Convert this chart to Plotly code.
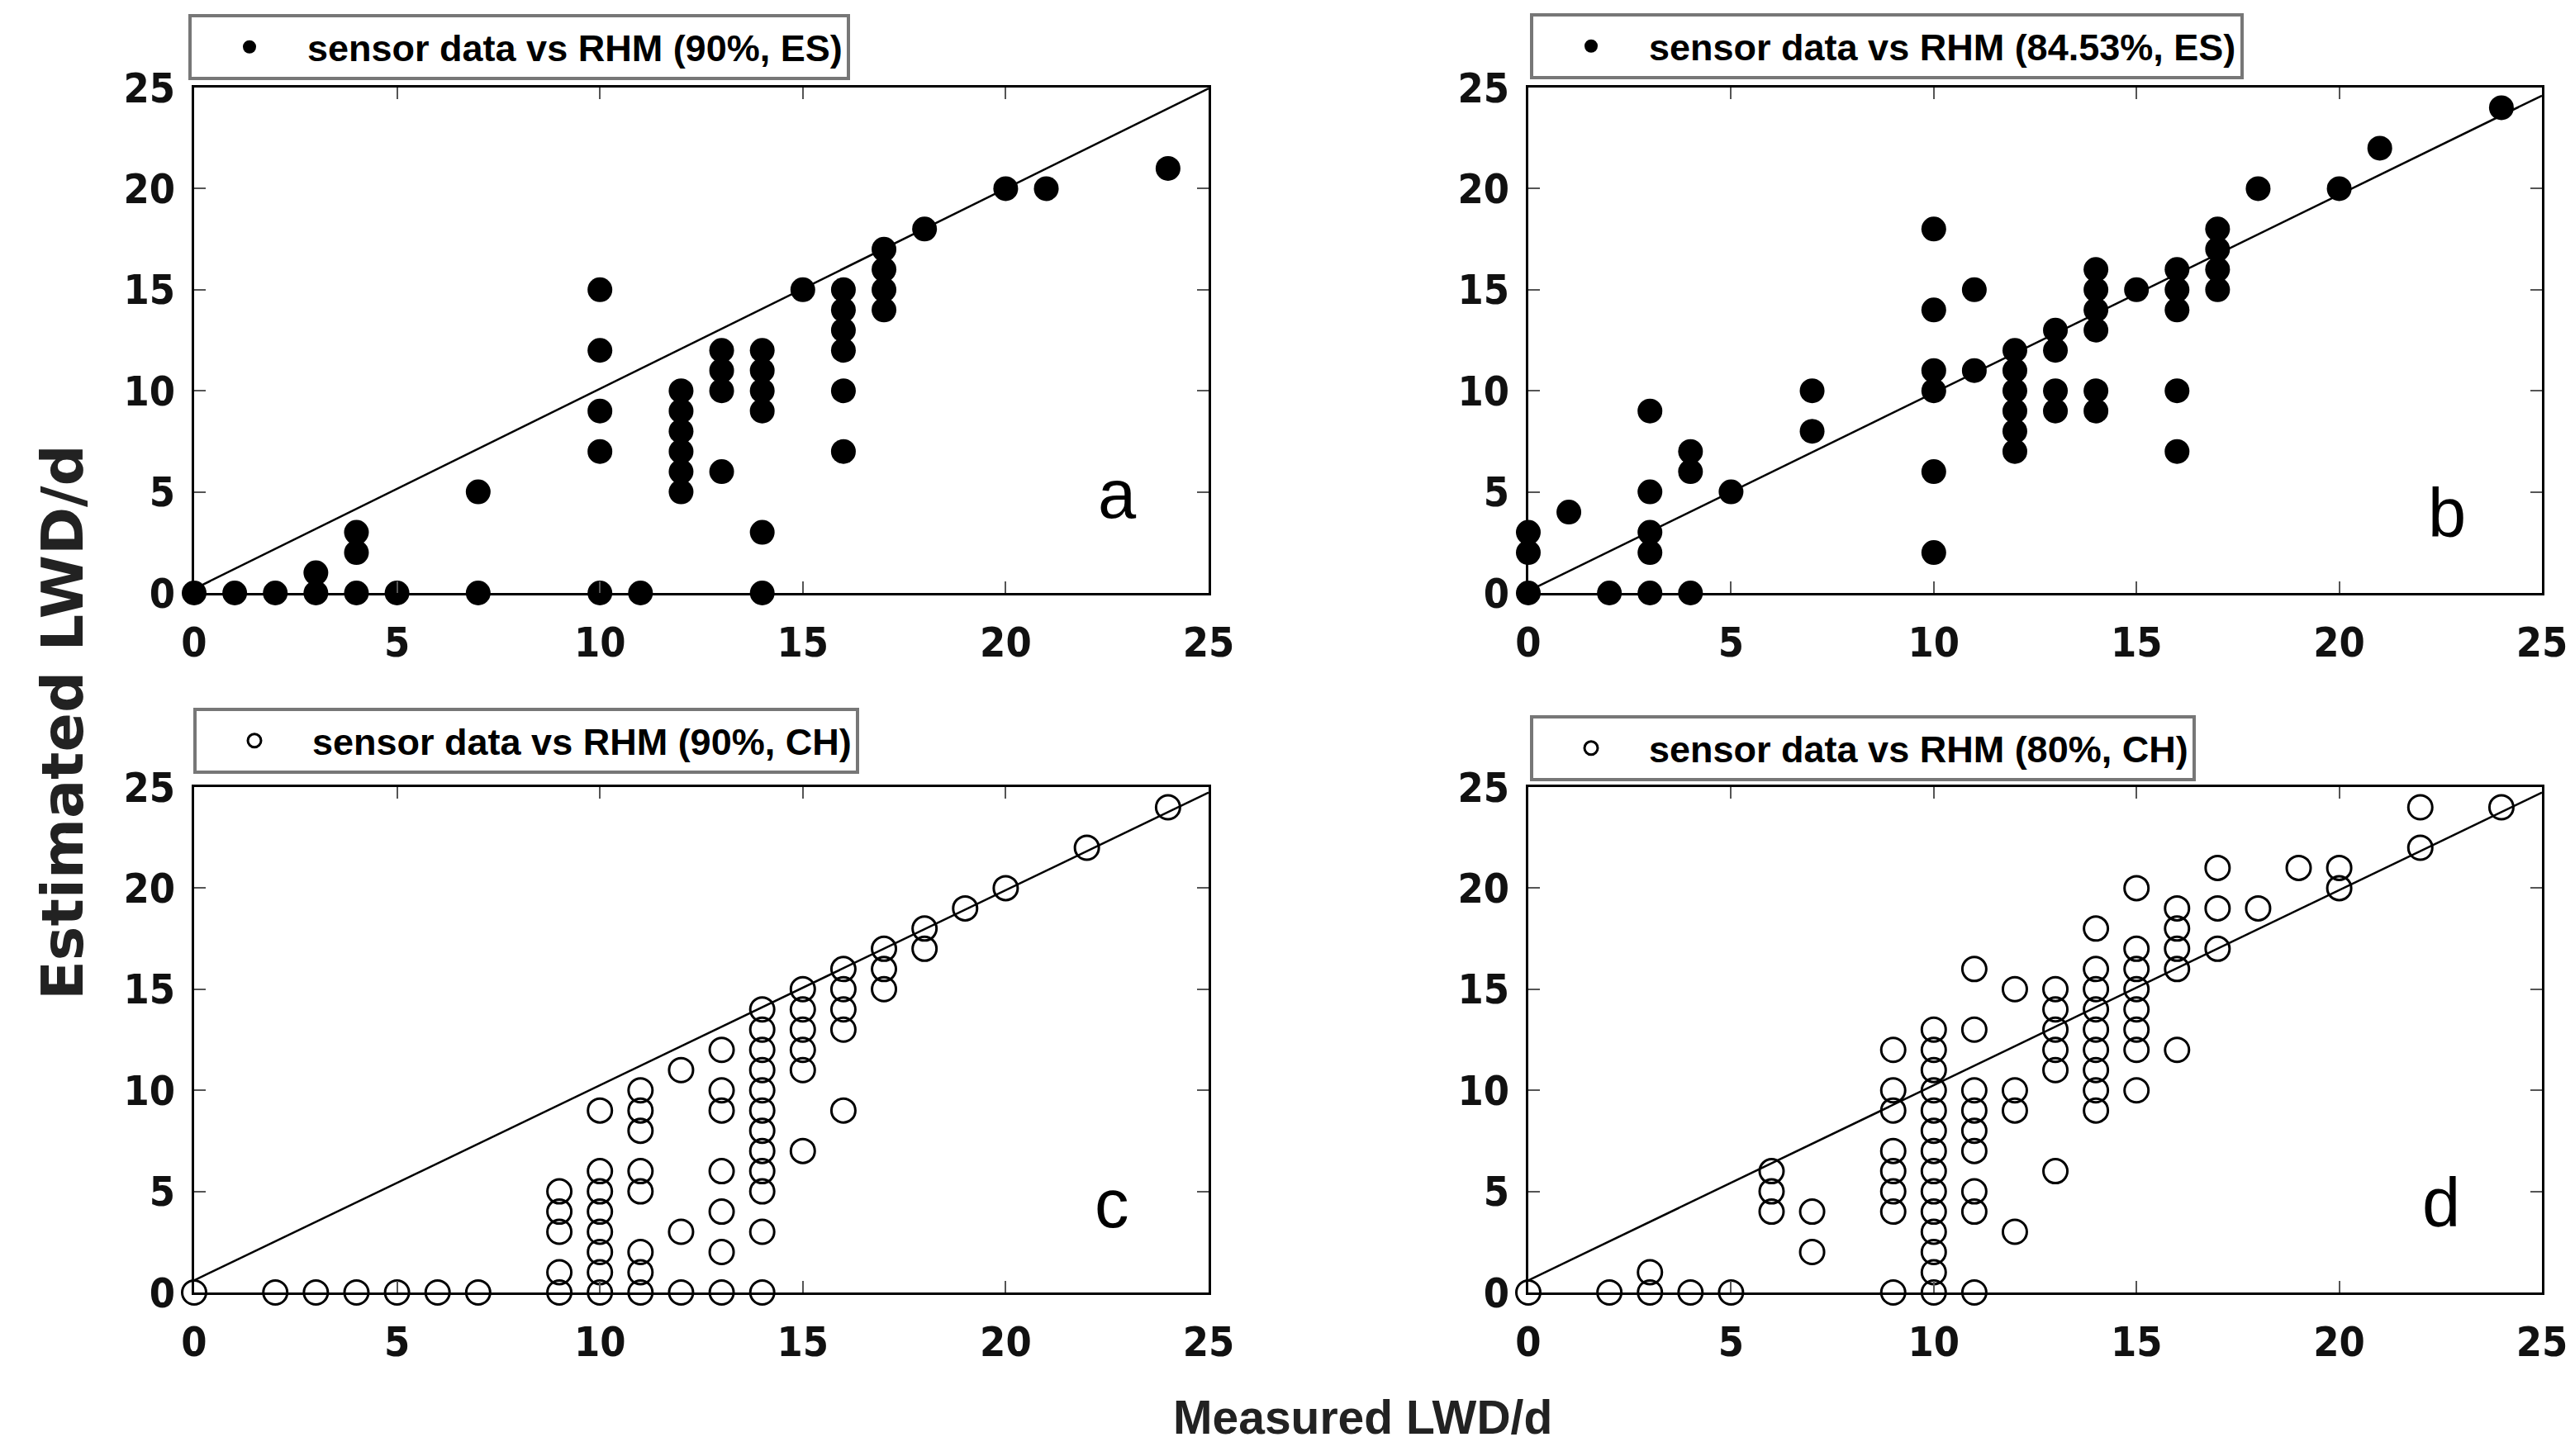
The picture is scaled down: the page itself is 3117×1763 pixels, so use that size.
import plotly.graph_objects as go

# panel a: sensor data vs RHM (90%, ES)
a_measured = [0, 1, 2, 3, 3, 4, 4, 4, 5, 7, 7,
              10, 10, 10, 10, 10, 11,
              12, 12, 12, 12, 12, 12,
              13, 13, 13, 13,
              14, 14, 14, 14, 14, 14,
              15, 16, 16, 16, 16, 16, 16,
              17, 17, 17, 17, 18, 20, 21, 24]
a_estimated = [0, 0, 0, 0, 1, 0, 2, 3, 0, 0, 5,
               0, 7, 9, 12, 15, 0,
               5, 6, 7, 8, 9, 10,
               6, 10, 11, 12,
               0, 3, 9, 10, 11, 12,
               15, 7, 10, 12, 13, 14, 15,
               14, 15, 16, 17, 18, 20, 20, 21]

# panel b: sensor data vs RHM (84.53%, ES)
b_measured = [0, 0, 0, 1, 2, 3, 3, 3, 3, 3, 4, 4, 4, 5, 7, 7,
              10, 10, 10, 10, 10, 10, 11, 11,
              12, 12, 12, 12, 12, 12,
              13, 13, 13, 13,
              14, 14, 14, 14, 14, 14,
              15, 16, 16, 16, 16, 16,
              17, 17, 17, 17, 18, 20, 21, 24]
b_estimated = [0, 2, 3, 4, 0, 0, 2, 3, 5, 9, 0, 6, 7, 5, 8, 10,
               2, 6, 10, 11, 14, 18, 11, 15,
               7, 8, 9, 10, 11, 12,
               9, 10, 12, 13,
               9, 10, 13, 14, 15, 16,
               15, 7, 10, 14, 15, 16,
               15, 16, 17, 18, 20, 20, 22, 24]

# panel c: sensor data vs RHM (90%, CH)
c_measured = [0, 2, 3, 4, 5, 6, 7,
              9, 9, 9, 9, 9,
              10, 10, 10, 10, 10, 10, 10, 10,
              11, 11, 11, 11, 11, 11, 11, 11,
              12, 12, 12,
              13, 13, 13, 13, 13, 13, 13,
              14, 14, 14, 14, 14, 14, 14, 14, 14, 14, 14, 14,
              15, 15, 15, 15, 15, 15,
              16, 16, 16, 16, 16,
              17, 17, 17, 18, 18, 19, 20, 22, 24]
c_estimated = [0, 0, 0, 0, 0, 0, 0,
               0, 1, 3, 4, 5,
               0, 1, 2, 3, 4, 5, 6, 9,
               0, 1, 2, 5, 6, 8, 9, 10,
               0, 3, 11,
               0, 2, 4, 6, 9, 10, 12,
               0, 3, 5, 6, 7, 8, 9, 10, 11, 12, 13, 14,
               7, 11, 12, 13, 14, 15,
               9, 13, 14, 15, 16,
               15, 16, 17, 17, 18, 19, 20, 22, 24]

# panel d: sensor data vs RHM (80%, CH)
d_measured = [0, 2, 3, 3, 4, 5, 6, 6, 6, 7, 7,
              9, 9, 9, 9, 9, 9, 9, 9,
              10, 10, 10, 10, 10, 10, 10, 10, 10, 10, 10, 10, 10, 10,
              11, 11, 11, 11, 11, 11, 11, 11, 11,
              12, 12, 12, 12,
              13, 13, 13, 13, 13, 13,
              14, 14, 14, 14, 14, 14, 14, 14, 14,
              15, 15, 15, 15, 15, 15, 15, 15,
              16, 16, 16, 16, 16,
              17, 17, 17, 18, 19, 20, 20, 22, 22, 24]
d_estimated = [0, 0, 0, 1, 0, 0, 4, 5, 6, 2, 4,
               0, 4, 5, 6, 7, 9, 10, 12,
               0, 1, 2, 3, 4, 5, 6, 7, 8, 9, 10, 11, 12, 13,
               0, 4, 5, 7, 8, 9, 10, 13, 16,
               3, 9, 10, 15,
               6, 11, 12, 13, 14, 15,
               9, 10, 11, 12, 13, 14, 15, 16, 18,
               10, 12, 13, 14, 15, 16, 17, 20,
               12, 16, 17, 18, 19,
               17, 19, 21, 19, 21, 20, 21, 22, 24, 24]

series_names = ["sensor data vs RHM (90%, ES)", "sensor data vs RHM (84.53%, ES)",
                "sensor data vs RHM (90%, CH)", "sensor data vs RHM (80%, CH)"]
panel_letters = ["a", "b", "c", "d"]
letter_x = [22.76, 22.66, 22.62, 22.52]
letter_y = [4.9, 3.94, 4.39, 4.42]
# fitted reference lines (intercept, slope)
fit_intercept = [0.2, 0.1, 0.6, 0.6]
fit_slope = [0.99, 0.98, 0.965, 0.965]

measured = [a_measured, b_measured, c_measured, d_measured]
estimated = [a_estimated, b_estimated, c_estimated, d_estimated]
filled = [True, True, False, False]

narrow = "DejaVu Sans Condensed, Liberation Sans Narrow, Arial Narrow, sans-serif"
sans = "Liberation Sans, Arial, sans-serif"

# page has an 8px body margin, so size the figure to fit the window
PAD = 8
W, H = 3117 - 2 * PAD, 1763 - 2 * PAD


def fx(px):
    return (px - PAD) / W


def fy(py):
    return 1 - (py - PAD) / H


# plot boxes in page pixels: left, right, top, bottom
boxes = [(235, 1463, 106, 718), (1850, 3077, 106, 718),
         (235, 1463, 953, 1565), (1850, 3077, 953, 1565)]
# legend boxes in page pixels: left, bottom
legend_px = [(228, 97), (1852, 96), (234, 937), (1852, 946)]

fig = go.Figure()
layout = {}

for i in range(4):
    sfx = "" if i == 0 else str(i + 1)
    lg = "legend" + sfx
    if filled[i]:
        marker = dict(symbol="circle", size=30, color="black", line=dict(width=0))
    else:
        marker = dict(symbol="circle-open", size=29, color="black", line=dict(width=3))
    fig.add_trace(go.Scatter(
        x=measured[i], y=estimated[i], mode="markers", name=series_names[i],
        marker=marker, cliponaxis=False, legend=lg,
        xaxis="x" + sfx, yaxis="y" + sfx))
    fig.add_trace(go.Scatter(
        x=[0, 25], y=[fit_intercept[i], fit_intercept[i] + 25 * fit_slope[i]],
        mode="lines", line=dict(color="black", width=2.5), showlegend=False,
        xaxis="x" + sfx, yaxis="y" + sfx))

    left, right, top, bottom = boxes[i]
    axis_common = dict(range=[0, 25], tickvals=[0, 5, 10, 15, 20, 25],
                       ticks="inside", ticklen=14, tickwidth=2, tickcolor="#555",
                       showline=True, linecolor="black", linewidth=3, mirror="ticks",
                       showgrid=False, zeroline=False,
                       tickfont=dict(family=narrow, size=50, color="#111", weight="bold"))
    layout["xaxis" + sfx] = dict(axis_common, domain=[fx(left), fx(right)],
                                 anchor="y" + sfx, ticklabelstandoff=14)
    layout["yaxis" + sfx] = dict(axis_common, domain=[fy(bottom), fy(top)],
                                 anchor="x" + sfx, ticklabelstandoff=10)
    layout[lg] = dict(x=fx(legend_px[i][0]), y=fy(legend_px[i][1]),
                      xanchor="left", yanchor="bottom",
                      bgcolor="white", bordercolor="#777", borderwidth=4,
                      font=dict(family=sans, size=45, color="black", weight="bold"),
                      itemsizing="trace", itemwidth=130)

fig.update_layout(**layout)

annotations = []
for i in range(4):
    sfx = "" if i == 0 else str(i + 1)
    annotations.append(dict(x=letter_x[i], y=letter_y[i], xref="x" + sfx, yref="y" + sfx,
                            text=panel_letters[i], showarrow=False,
                            font=dict(family=sans, size=83, color="black")))
annotations.append(dict(x=fx(76), y=fy(875), xref="paper", yref="paper", text="Estimated LWD/d",
                        textangle=-90, showarrow=False, xanchor="center", yanchor="middle",
                        font=dict(family="DejaVu Sans, sans-serif", size=70, color="#222",
                                  weight="bold")))
annotations.append(dict(x=fx(1649), y=fy(1716), xref="paper", yref="paper", text="Measured LWD/d",
                        showarrow=False, xanchor="center", yanchor="middle",
                        font=dict(family=sans, size=57, color="#222", weight="bold")))

fig.update_layout(
    width=W, height=H, template="none",
    paper_bgcolor="white", plot_bgcolor="white",
    margin=dict(l=0, r=0, t=0, b=0),
    annotations=annotations,
)

fig.write_html("out.html")
